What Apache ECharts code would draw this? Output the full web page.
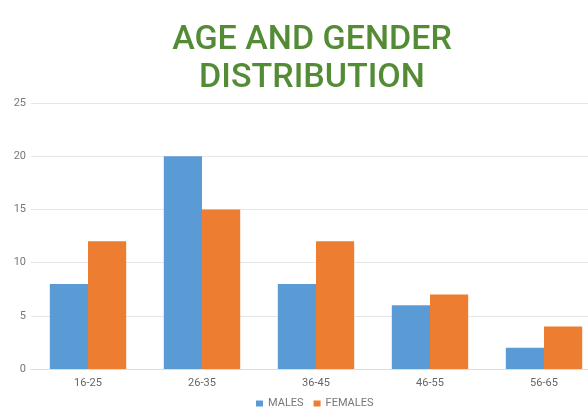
<!DOCTYPE html>
<html><head><meta charset="utf-8">
<script src="https://cdn.jsdelivr.net/npm/echarts@6/dist/echarts.min.js"></script>
<style>html,body{margin:0;padding:0;background:#fff}#c{width:588px;height:408px}</style>
</head><body><div id="c"></div>
<script>
const categories = ['16-25','26-35','36-45','46-55','56-65'];
const males = [8, 20, 8, 6, 2];
const females = [12, 15, 12, 7, 4];
const seriesNames = ['MALES','FEMALES'];
const chart = echarts.init(document.getElementById('c'));
chart.setOption({
  animation:false,
  title:{text:'AGE AND GENDER\nDISTRIBUTION',left:307,textAlign:'center',top:16,
    textStyle:{fontFamily:'Roboto',fontWeight:500,fontSize:34,lineHeight:38,color:'#548b35'}},
  legend:{top:398,left:256,itemWidth:7,itemHeight:6,itemGap:10,icon:'rect',padding:0,
    textStyle:{fontFamily:'Roboto',fontSize:11,color:'#777'}},
  grid:{left:31,width:570,top:103,bottom:39,outerBoundsMode:'none',containLabel:false},
  xAxis:{type:'category',data:categories,axisTick:{show:false},
    axisLine:{lineStyle:{color:'#ddd'}},
    axisLabel:{fontFamily:'Roboto',fontSize:11,color:'#666',margin:9}},
  yAxis:{type:'value',min:0,max:25,interval:5,axisLine:{show:false},axisTick:{show:false},
    splitLine:{lineStyle:{color:'#e6e6e6'}},
    axisLabel:{fontFamily:'Roboto',fontSize:11,color:'#777',margin:5}},
  series:[
    {name:seriesNames[0],type:'bar',data:males,barCategoryGap:'33%',barGap:'0%',itemStyle:{color:'#5b9bd5'}},
    {name:seriesNames[1],type:'bar',data:females,itemStyle:{color:'#ed7d31'}}
  ]
});
</script></body></html>
